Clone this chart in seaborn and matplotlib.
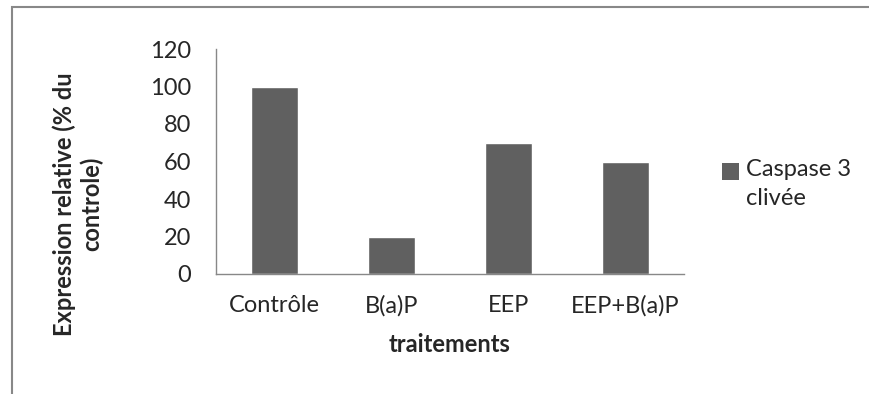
import pandas as pd
import matplotlib.pyplot as plt
import seaborn as sns
from matplotlib.patches import Rectangle, Patch
from matplotlib.legend_handler import HandlerPatch

# Data
traitements = ['Contrôle', 'B(a)P', 'EEP', 'EEP+B(a)P']
caspase3 = [100, 20, 70, 60]
yticks = [0, 20, 40, 60, 80, 100, 120]

df = pd.DataFrame({'traitement': traitements, 'expression': caspase3})

sns.set_style('white')
plt.rcParams['font.family'] = ['Lato', 'DejaVu Sans']

fs = 17
fig = plt.figure(figsize=(8.69, 3.94), dpi=100)
ax = fig.add_axes([216 / 869, 1 - 274 / 394, (684 - 216) / 869, (274 - 49) / 394])

bar_color = '#606060'
sns.barplot(data=df, x='traitement', y='expression', color=bar_color,
            width=0.4, saturation=1, ax=ax)

ax.set_ylim(0, 120)
ax.set_yticks(yticks)
ax.set_xlim(-0.5, 3.5)
ax.tick_params(axis='y', length=7, width=1, color='#888888', labelsize=fs, pad=11)
ax.tick_params(axis='x', length=0, labelsize=fs, pad=15)

for s in ['top', 'right']:
    ax.spines[s].set_visible(False)
for s in ['left', 'bottom']:
    ax.spines[s].set_color('#888888')
    ax.spines[s].set_linewidth(1)

ax.set_xlabel('traitements', fontsize=fs, fontweight='bold', labelpad=12)
ax.set_ylabel('Expression relative (% du\ncontrole)', fontsize=fs,
              fontweight='bold')
# Excel puts the axis title a bit lower than the plot centre
ax.yaxis.set_label_coords(-0.24, 0.31)


# legend square lined up with the first line of the label
def top_square(legend, orig_handle, xdescent, ydescent, width, height, fontsize):
    return Rectangle((-xdescent, -ydescent + 0.55 * fontsize), width, height)


handle = Patch(facecolor=bar_color, edgecolor='none')
leg = ax.legend([handle], ['Caspase 3\nclivée'], loc='center left',
                bbox_to_anchor=(1.035, 0.40), frameon=False, fontsize=fs,
                handlelength=0.72, handleheight=0.72, handletextpad=0.3,
                handler_map={Patch: HandlerPatch(patch_func=top_square)})
for t in leg.get_texts():
    t.set_linespacing(1.45)

# chart area border (partly cut off on the right and bottom like the original)
fig.patches.append(Rectangle((12 / 869, -0.05), 1.0, 1 - 7 / 394 + 0.05,
                             transform=fig.transFigure, fill=False,
                             edgecolor='#888888', linewidth=1.5))

fig.savefig('out.png', dpi=100)
